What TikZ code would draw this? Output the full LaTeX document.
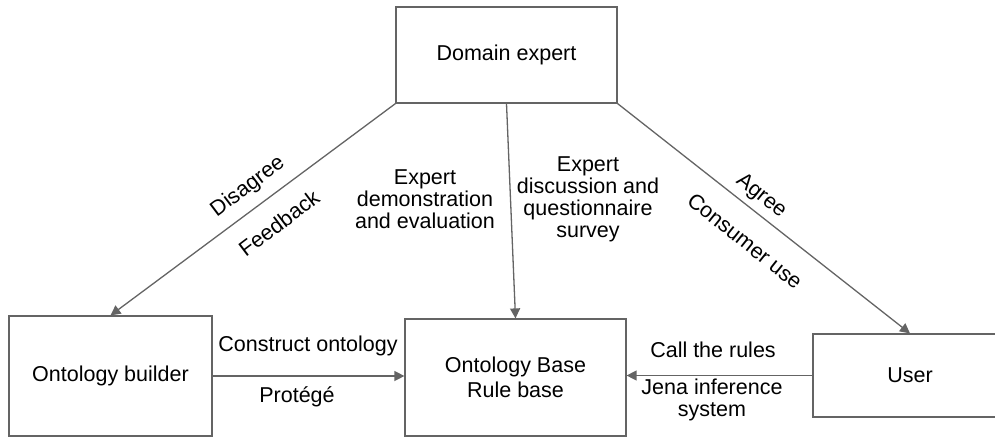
\documentclass[tikz,border=0pt]{standalone}
\usepackage{fontspec}
\setmainfont{Liberation Sans}
\usetikzlibrary{arrows.meta}
\begin{document}
\begin{tikzpicture}[x=1pt,y=-1pt,
  every node/.style={font=\fontsize{21.5}{22}\selectfont, text=black},
  box/.style={draw=linegray, line width=1.2pt, inner sep=0pt, align=center},
  conn/.style={draw=linegray, line width=1.3pt, -{Triangle[length=10pt,width=10pt]}},
  lbl/.style={inner sep=0pt, align=center}]
\definecolor{linegray}{RGB}{100,100,100}
\useasboundingbox (0,0) rectangle (995,437);
\clip (0,0) rectangle (995,437);
% boxes
\node[box, minimum width=221pt, minimum height=96pt] (expert) at (506.5,55) {Domain expert};
\node[box, minimum width=203pt, minimum height=120pt] (builder) at (110.5,376) {Ontology builder};
\node[box, minimum width=221pt, minimum height=117pt, font=\fontsize{21.5}{25.5}\selectfont] (base) at (515.5,377.5) {Ontology Base\\Rule base};
\node[box, minimum width=194pt, minimum height=83pt] (user) at (910,375.5) {User};
% connectors
\draw[conn] (expert.south west) -- (builder.north);
\draw[conn] (expert.south) -- (base.north);
\draw[conn] (expert.south east) -- (user.north);
\draw[conn] (builder.east) -- (builder.east -| base.west);
\draw[conn] (user.west) -- (user.west -| base.east);
% labels
\node[lbl, rotate=37] (ldis) at (248,187) {Disagree};
\node[lbl, rotate=37] (lfeed) at (279,223) {Feedback};
\node[lbl] (ldemo) at (425,199) {Expert\\demonstration\\and evaluation};
\node[lbl] (ldisc) at (588,199) {Expert\\discussion and\\questionnaire\\survey};
\node[lbl, rotate=-38.6] (lagree) at (761,196) {Agree};
\node[lbl, rotate=-38.6] (lcons) at (745,241) {Consumer use};
\node[lbl] (lcons2) at (308,346) {Construct ontology};
\node[lbl] (lprot) at (297,397) {Protégé};
\node[lbl] (lcall) at (713,350) {Call the rules};
\node[lbl] (ljena) at (712,400) {Jena inference\\system};
\end{tikzpicture}
\end{document}
